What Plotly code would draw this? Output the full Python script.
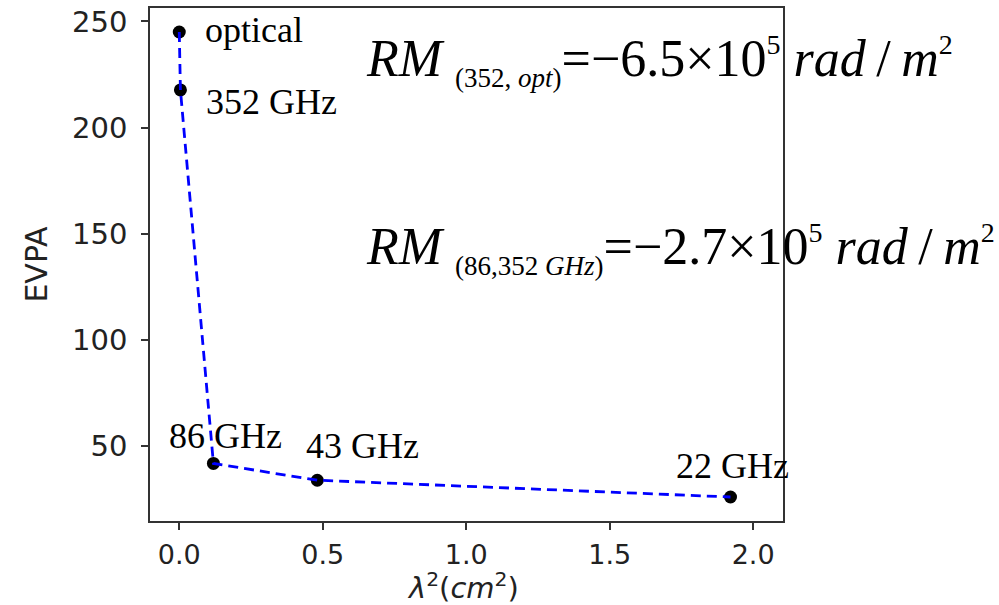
import plotly.graph_objects as go

# data
bands = ["optical", "352 GHz", "86 GHz", "43 GHz", "22 GHz"]
lam2 = [0.0, 0.004, 0.119, 0.481, 1.921]
evpa = [245.0, 217.7, 41.8, 33.9, 26.0]
x_ticks = [0.0, 0.5, 1.0, 1.5, 2.0]
y_ticks = [50, 100, 150, 200, 250]
x_title = "<i>λ</i><sup>2</sup>(<i>cm</i><sup>2</sup>)"
y_title = "EVPA"

# label offsets in px (xshift, yshift, xanchor)
label_offsets = [(24, 2, "left"), (24, -12, "left"), (12, 27, "center"),
                 (45, 34, "center"), (2, 31, "center")]

fig = go.Figure()
fig.add_trace(go.Scatter(x=lam2, y=evpa, mode="markers",
                         marker=dict(color="black", size=13), showlegend=False))
fig.add_trace(go.Scatter(x=lam2, y=evpa, mode="lines",
                         line=dict(color="#0000ff", width=2.8, dash="10px,6px"),
                         showlegend=False))

for b, xv, yv, (xs, ys, xa) in zip(bands, lam2, evpa, label_offsets):
    fig.add_annotation(x=xv, y=yv, text=b, showarrow=False, xanchor=xa, yanchor="middle",
                       xshift=xs, yshift=ys,
                       font=dict(family="Liberation Serif", size=36, color="black"))

rm_lines = [
    ("<i>RM</i> <sub><span style='font-size:27px'>(352, <i>opt</i>)</span></sub>"
     "=−6.5×10<sup><span style='font-size:28px'>5</span></sup>"
     " <i>rad</i>\u2009/\u2009<i>m</i><sup><span style='font-size:28px'>2</span></sup>", 0.897),
    ("<i>RM</i> <sub><span style='font-size:27px'>(86,352 <i>GHz</i>)</span></sub>"
     "=−2.7×10<sup><span style='font-size:28px'>5</span></sup>"
     " <i>rad</i>\u2009/\u2009<i>m</i><sup><span style='font-size:28px'>2</span></sup>", 0.531),
]
for txt, yp in rm_lines:
    fig.add_annotation(x=0.338, y=yp, xref="paper", yref="paper", text=txt,
                       showarrow=False, xanchor="left", yanchor="middle",
                       font=dict(family="Liberation Serif", size=52, color="black"))

# x axis title placed as annotation below the tick labels
fig.add_annotation(x=0.495, y=-0.126, xref="paper", yref="paper", text=x_title,
                   showarrow=False, xanchor="center", yanchor="middle",
                   font=dict(family="DejaVu Sans", size=29, color="#222"))

axis_common = dict(showline=True, linecolor="#333", linewidth=1.5, mirror=True,
                   showgrid=False, zeroline=False, ticks="outside", ticklen=7,
                   tickcolor="#333", tickwidth=1.5, automargin=False)

fig.update_xaxes(range=[-0.102, 2.104], tickvals=x_ticks,
                 ticktext=[f"{v:.1f}" for v in x_ticks],
                 ticklabelstandoff=2,
                 tickfont=dict(family="DejaVu Sans", size=27, color="#222"),
                 **axis_common)
fig.update_yaxes(range=[14.7, 256.3], tickvals=y_ticks,
                 ticktext=[str(v) for v in y_ticks],
                 title=dict(text=y_title, font=dict(family="DejaVu Sans", size=30, color="#222"),
                            standoff=16),
                 ticklabelstandoff=8,
                 tickfont=dict(family="DejaVu Sans", size=29, color="#222"),
                 **axis_common)

fig.update_layout(width=999, height=605, margin=dict(l=150, r=216, t=8, b=84),
                  plot_bgcolor="white", paper_bgcolor="white")

fig.write_html("out.html")
